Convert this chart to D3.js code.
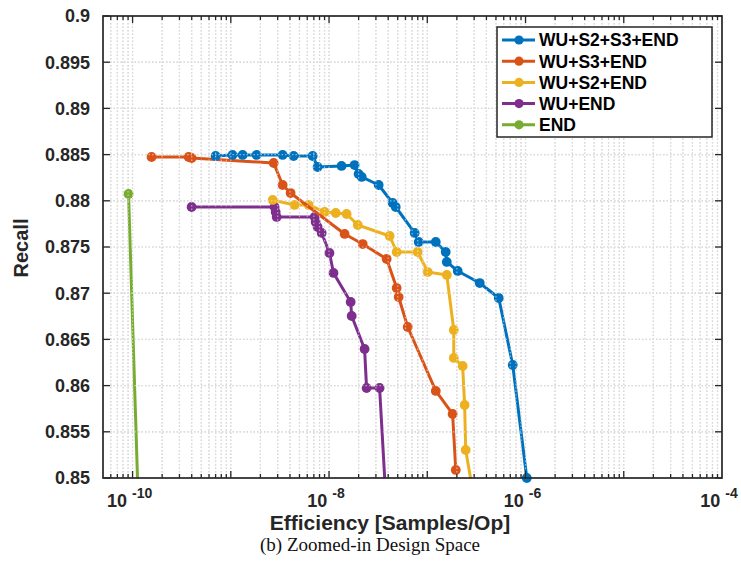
<!DOCTYPE html>
<html>
<head>
<meta charset="utf-8">
<script src="https://cdn.jsdelivr.net/npm/d3@7"></script>
<style>
html,body{margin:0;padding:0;background:#fff;}
svg{display:block;}
</style>
</head>
<body>
<svg id="chart" width="741" height="574"></svg>
<script>
// ---------- data ----------
const seriesNames = ["WU+S2+S3+END", "WU+S3+END", "WU+S2+END", "WU+END", "END"];

const blueX = [7.0e-10, 1.04e-9, 1.32e-9, 1.83e-9, 3.37e-9, 4.36e-9, 6.81e-9, 7.65e-9, 1.34e-8, 1.82e-8, 2.00e-8, 2.15e-8, 3.20e-8, 4.44e-8, 4.77e-8, 7.44e-8, 8.18e-8, 1.22e-7, 1.54e-7, 1.58e-7, 2.04e-7, 3.42e-7, 5.34e-7, 7.41e-7, 1.03e-6];
const blueY = [0.88485, 0.88496, 0.88496, 0.88496, 0.88496, 0.88485, 0.88485, 0.88366, 0.88377, 0.88387, 0.8829, 0.88258, 0.88171, 0.87976, 0.87933, 0.87652, 0.87554, 0.87554, 0.87446, 0.87338, 0.8724, 0.8711, 0.86948, 0.86223, 0.85];

const orangeX = [1.56e-10, 3.72e-10, 3.99e-10, 2.73e-9, 3.37e-9, 4.06e-9, 1.44e-8, 2.20e-8, 3.86e-8, 4.88e-8, 5.11e-8, 6.32e-8, 1.22e-7, 1.81e-7, 1.95e-7];
const orangeY = [0.88474, 0.88474, 0.88463, 0.88409, 0.88171, 0.88084, 0.87641, 0.87532, 0.8737, 0.87056, 0.86959, 0.86634, 0.85942, 0.85693, 0.85087];

const yellowX = [2.67e-9, 4.46e-9, 6.20e-9, 9.02e-9, 1.17e-8, 1.51e-8, 1.96e-8, 4.14e-8, 4.88e-8, 7.98e-8, 1.01e-7, 1.58e-7, 1.86e-7, 1.86e-7, 2.29e-7, 2.40e-7, 2.46e-7, 2.86e-7];
const yellowY = [0.88009, 0.87955, 0.87955, 0.87879, 0.87868, 0.87857, 0.87738, 0.87619, 0.87446, 0.87446, 0.87229, 0.87197, 0.86602, 0.86299, 0.86212, 0.8579, 0.85303, 0.849];

const purpleX = [3.99e-10, 2.79e-9, 2.86e-9, 2.93e-9, 7.14e-9, 7.30e-9, 7.65e-9, 8.41e-9, 1.01e-8, 1.11e-8, 1.66e-8, 1.70e-8, 2.30e-8, 2.41e-8, 3.27e-8, 3.73e-8];
const purpleY = [0.87933, 0.87933, 0.87879, 0.87825, 0.87825, 0.87771, 0.87716, 0.87652, 0.87435, 0.87219, 0.86905, 0.86753, 0.86396, 0.85974, 0.85974, 0.849];

const greenX = [9.1e-11, 1.13e-10];
const greenY = [0.88074, 0.849];

const xMajorTicks = [1e-10, 1e-8, 1e-6, 1e-4];
const xTickExponents = ["-10", "-8", "-6", "-4"];
const yTicks = [0.85, 0.855, 0.86, 0.865, 0.87, 0.875, 0.88, 0.885, 0.89, 0.895, 0.9];
const yTickLabels = ["0.85", "0.855", "0.86", "0.865", "0.87", "0.875", "0.88", "0.885", "0.89", "0.895", "0.9"];
const xTitle = "Efficiency [Samples/Op]";
const yTitle = "Recall";
const caption = "(b) Zoomed-in Design Space";

// ---------- styles ----------
const colors = ["#0072BD", "#D95319", "#EDB120", "#7E2F8E", "#77AC30"];
const axisColor = "#262626";
const sans = "'Liberation Sans', Arial, Helvetica, sans-serif";

const L = 103, R = 722, T = 16, B = 478;

const svg = d3.select("#chart");
const x = d3.scaleLog().domain([5e-11, 1e-4]).range([L, R]);
const y = d3.scaleLinear().domain([0.85, 0.9]).range([B, T]);

const series = [
  {name: seriesNames[0], xs: blueX, ys: blueY, color: colors[0]},
  {name: seriesNames[1], xs: orangeX, ys: orangeY, color: colors[1]},
  {name: seriesNames[2], xs: yellowX, ys: yellowY, color: colors[2]},
  {name: seriesNames[3], xs: purpleX, ys: purpleY, color: colors[3]},
  {name: seriesNames[4], xs: greenX, ys: greenY, color: colors[4]}
].map(s => ({...s, pts: s.xs.map((v, i) => [v, s.ys[i]])}));

// grid values
const gridX = [];
for (let d = -11; d <= -5; d++) {
  for (let k = 1; k <= 9; k++) {
    const v = k * Math.pow(10, d);
    if (v > 5.0001e-11 && v < 0.99e-4) gridX.push(v);
  }
}
const gridY = yTicks.filter(v => v > 0.8501 && v < 0.8999);

svg.append("defs").append("clipPath").attr("id", "plotclip")
  .append("rect").attr("x", L).attr("y", T).attr("width", R - L).attr("height", B - T);

function drawGrid(g, stroke, width) {
  g.selectAll("line.gx").data(gridX).enter().append("line")
    .attr("x1", d => x(d)).attr("x2", d => x(d)).attr("y1", T).attr("y2", B)
    .attr("stroke", stroke).attr("stroke-width", width).attr("stroke-dasharray", "1.5,2");
  g.selectAll("line.gy").data(gridY).enter().append("line")
    .attr("y1", d => y(d)).attr("y2", d => y(d)).attr("x1", L).attr("x2", R)
    .attr("stroke", stroke).attr("stroke-width", width).attr("stroke-dasharray", "1.5,2");
}

// under grid
drawGrid(svg.append("g"), "#b4b4b4", 1.2);

// data
const line = d3.line().x(d => x(d[0])).y(d => y(d[1]));
const dataG = svg.append("g");
series.slice().reverse().forEach(s => {
  dataG.append("path").datum(s.pts)
    .attr("clip-path", "url(#plotclip)")
    .attr("d", line).attr("fill", "none")
    .attr("stroke", s.color).attr("stroke-width", 3).attr("stroke-linejoin", "round");
  dataG.selectAll(null).data(s.pts.filter(p => p[1] >= 0.85)).enter().append("circle")
    .attr("cx", d => x(d[0])).attr("cy", d => y(d[1])).attr("r", 4.9)
    .attr("fill", s.color);
});

// over grid (layer top look)
drawGrid(svg.append("g").attr("clip-path", "url(#plotclip)"), "rgba(255,255,255,0.5)", 1.2);

// axes box
const ax = svg.append("g");
ax.append("rect").attr("x", L).attr("y", T).attr("width", R - L).attr("height", B - T)
  .attr("fill", "none").attr("stroke", axisColor).attr("stroke-width", 1.7);

// x ticks (bottom & top, inward)
gridX.forEach(v => {
  const lg = Math.log10(v);
  const isMajor = Math.abs(lg - Math.round(lg)) < 1e-9;
  const len = isMajor ? 7 : 4;
  ax.append("line").attr("x1", x(v)).attr("x2", x(v)).attr("y1", B).attr("y2", B - len)
    .attr("stroke", axisColor).attr("stroke-width", 1.3);
  ax.append("line").attr("x1", x(v)).attr("x2", x(v)).attr("y1", T).attr("y2", T + len)
    .attr("stroke", axisColor).attr("stroke-width", 1.3);
});
// y ticks (left & right)
yTicks.forEach(v => {
  ax.append("line").attr("x1", L).attr("x2", L + 7).attr("y1", y(v)).attr("y2", y(v))
    .attr("stroke", axisColor).attr("stroke-width", 1.3);
  ax.append("line").attr("x1", R).attr("x2", R - 7).attr("y1", y(v)).attr("y2", y(v))
    .attr("stroke", axisColor).attr("stroke-width", 1.3);
});

// y tick labels
svg.append("g").selectAll("text").data(yTicks).enter().append("text")
  .attr("x", 90).attr("y", d => y(d)).attr("dy", "0.36em")
  .attr("text-anchor", "end").attr("font-family", sans).attr("font-weight", "bold")
  .attr("font-size", 18).attr("fill", axisColor)
  .text((d, i) => yTickLabels[i]);

// x tick labels
const xl = svg.append("g").selectAll("text").data(xMajorTicks).enter().append("text")
  .attr("x", d => x(d) - 3).attr("y", 507)
  .attr("text-anchor", "middle").attr("font-family", sans).attr("font-weight", "bold")
  .attr("font-size", 18).attr("fill", axisColor);
xl.append("tspan").text("10");
xl.append("tspan").attr("dx", 5).attr("dy", -9).attr("font-size", 14)
  .text((d, i) => xTickExponents[i]);

// axis titles
svg.append("text").attr("x", 390).attr("y", 530).attr("text-anchor", "middle")
  .attr("font-family", sans).attr("font-weight", "bold").attr("font-size", 21)
  .attr("fill", axisColor).text(xTitle);
svg.append("text").attr("transform", "translate(28,248) rotate(-90)").attr("text-anchor", "middle")
  .attr("font-family", sans).attr("font-weight", "bold").attr("font-size", 20)
  .attr("fill", axisColor).text(yTitle);

// caption
svg.append("text").attr("x", 370).attr("y", 551).attr("text-anchor", "middle")
  .attr("font-family", "'Liberation Serif', 'DejaVu Serif', serif").attr("font-size", 19)
  .attr("fill", "#111").text(caption);

// legend
const lg = svg.append("g");
lg.append("rect").attr("x", 497).attr("y", 27).attr("width", 215).attr("height", 110)
  .attr("fill", "#fff").attr("stroke", axisColor).attr("stroke-width", 1.5);
series.forEach((s, i) => {
  const yy = 40 + i * 21.2;
  lg.append("line").attr("x1", 502).attr("x2", 535).attr("y1", yy).attr("y2", yy)
    .attr("stroke", s.color).attr("stroke-width", 3);
  lg.append("circle").attr("cx", 519).attr("cy", yy).attr("r", 4.6).attr("fill", s.color);
  lg.append("text").attr("x", 539).attr("y", yy).attr("dy", "0.36em")
    .attr("font-family", sans).attr("font-weight", "bold").attr("font-size", 17.5)
    .attr("fill", "#000").text(s.name);
});
</script>
</body>
</html>
